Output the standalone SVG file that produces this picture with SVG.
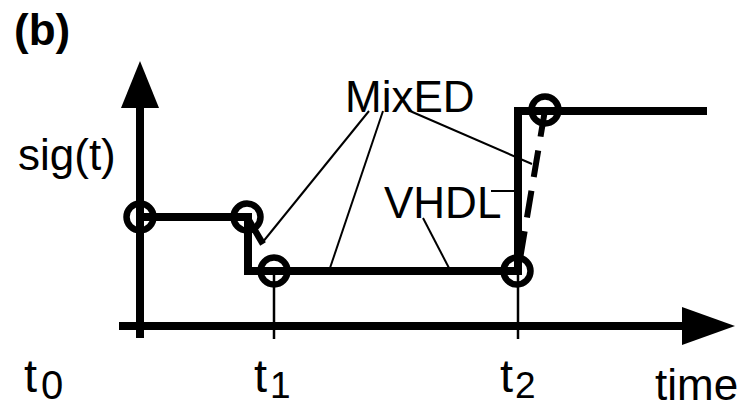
<svg xmlns="http://www.w3.org/2000/svg" width="755" height="408" viewBox="0 0 755 408">
<style>
text{font-family:"Liberation Sans",Arial,sans-serif;fill:#000}
.lbl{font-size:44px}
.tt{font-size:47px}
.sub{font-size:37px}
.thick{stroke:#000;stroke-width:8;fill:none}
.tick{stroke:#000;stroke-width:2.5}
.ring{stroke:#000;stroke-width:6.5;fill:none}
.lead{stroke:#000;stroke-width:2;fill:none}
</style>
<rect width="755" height="408" fill="#fff"/>
<g id="title"><text x="14" y="45" class="lbl" font-weight="bold">(b)</text></g>
<g id="axes">
<line x1="140" y1="100" x2="140" y2="338" class="thick"/>
<polygon points="140,61 121,108 159,108"/>
<line x1="119" y1="326" x2="690" y2="326" class="thick"/>
<polygon points="735,326 682,307 682,345"/>
<line x1="274" y1="271" x2="274" y2="339" class="tick"/>
<line x1="518" y1="271" x2="518" y2="339" class="tick"/>
</g>
<g id="axis-labels">
<text x="18" y="170" class="lbl">sig(t)</text>
<text x="655" y="400" class="lbl">time</text>
<text x="24" y="392" class="tt">t</text><text x="41" y="399" font-size="40">0</text>
<text x="254" y="392" class="tt">t</text><text x="270" y="398" class="sub">1</text>
<text x="500" y="392" class="tt">t</text><text x="515" y="398" class="sub">2</text>
</g>
<g id="vhdl-signal">
<polyline points="140,217 248,217 248,271 518,271 518,111 707,111" class="thick" stroke-linejoin="miter"/>
</g>
<g id="mixed-signal">
<line x1="247" y1="217" x2="263" y2="244" stroke="#000" stroke-width="6.5"/>
<line x1="545" y1="110" x2="518" y2="271" stroke="#000" stroke-width="6" stroke-dasharray="27 14"/>
</g>
<g id="events">
<circle cx="140" cy="217" r="13.5" class="ring"/>
<circle cx="247" cy="217" r="13.5" class="ring"/>
<circle cx="274" cy="271" r="13.5" class="ring"/>
<circle cx="517" cy="271" r="13.5" class="ring"/>
<circle cx="545" cy="110" r="13.5" class="ring"/>
</g>
<g id="label-mixed"><text x="345" y="112" class="lbl">MixED</text></g>
<g id="label-vhdl"><text x="384" y="218" class="lbl">VHDL</text></g>
<g id="connectors">
<line x1="369" y1="111" x2="262" y2="243" class="lead"/>
<line x1="383" y1="111" x2="330" y2="268" class="lead"/>
<line x1="410" y1="111" x2="532" y2="164" class="lead"/>
<line x1="423" y1="218" x2="449" y2="268" class="lead"/>
<line x1="491" y1="191" x2="517" y2="191" class="lead"/>
</g>
</svg>
